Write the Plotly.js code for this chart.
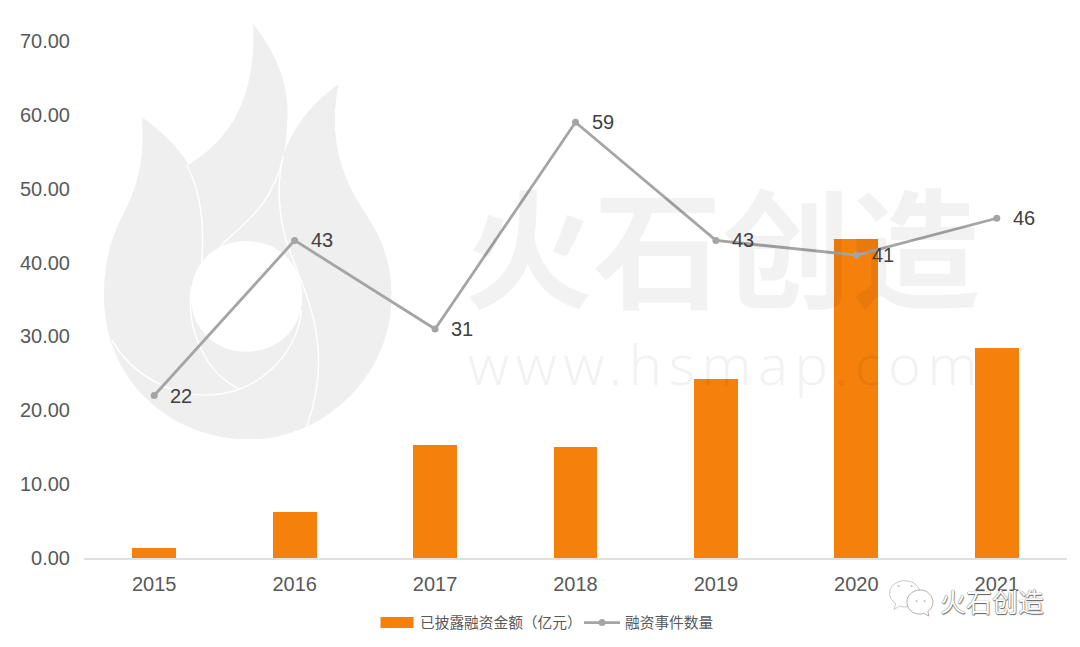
<!DOCTYPE html>
<html><head><meta charset="utf-8">
<script src="https://cdn.plot.ly/plotly-3.0.1.min.js"></script>
<style>
html,body{margin:0;padding:0;background:#fff}
.annotation[data-index="1"] text{letter-spacing:6.5px}
</style></head><body><div id="chart" style="width:1080px;height:647px"></div>
<script>
const years=['2015','2016','2017','2018','2019','2020','2021'];
const funding=[1.35,6.25,15.3,15.0,24.3,43.2,28.4];
const events=[22,43,31,59,43,41,46];
const yTicks=[0,10,20,30,40,50,60,70];
const fundingName='已披露融资金额（亿元）';
const eventsName='融资事件数量';

const W=1080,H=647;
const L=84,R=1067.5,T=41,B=558;
const pxX=x=>(x-L)/(R-L), pxY=y=>(B-y)/(B-T);
// decorative watermark paths, pixel space -> paper space
function mapPath(d,sx,sy,ox,oy){
  let i=0;
  return d.replace(/-?\d+(\.\d+)?/g,m=>{
    const v=+m,isX=(i++%2===0);
    return (isX?pxX(v/sx+ox):pxY(v/sy+oy)).toFixed(5);
  });
}
const flame=(d)=>mapPath(d,3,3,90,10);
const logo=(d)=>mapPath(d,3,3,890,570);
const flameOutline='M155,320 C230,375 280,430 295,465 C400,400 500,290 490,42 C560,130 600,230 592,330 C590,385 587,410 580,435 C620,330 680,270 746,222 C725,330 730,430 790,550 C840,640 905,700 905,860 C905,1100 700,1288 480,1288 C230,1288 42,1100 42,860 C42,700 90,640 120,570 C150,500 165,420 155,320 Z '
 +'M303,860 C303,760 375,693 470,693 C565,693 637,760 637,860 C637,955 565,1025 470,1025 C375,1025 303,955 303,860 Z';
const veins=[
 'M290,465 C330,540 345,640 335,760',
 'M305,830 C285,960 350,1090 445,1135',
 'M392,710 C440,650 540,610 580,440',
 'M580,440 C555,540 570,660 610,750 C660,880 730,1030 650,1250',
 'M65,990 C130,1100 250,1160 360,1155 C500,1150 620,1040 635,900'
];
const logoBack='M45,32 C72,32 92,50 92,72 C92,90 78,102 60,108 C50,112 40,112 30,108 L14,118 L18,100 C6,92 0,82 0,70 C0,50 20,32 45,32 Z';
const logoFront='M92,60 C115,60 130,78 130,98 C130,108 124,118 115,124 L118,138 L102,130 C98,132 94,132 90,132 C68,132 52,116 52,96 C52,76 70,60 92,60 Z';
const dot=(x,y)=>({type:'circle',xref:'paper',yref:'paper',layer:'above',x0:pxX(x-1.1),x1:pxX(x+1.1),y0:pxY(y+1.1),y1:pxY(y-1.1),fillcolor:'#c4c4c4',line:{width:0}});
const shapes=[
 {type:'path',xref:'paper',yref:'paper',layer:'below',path:flame(flameOutline),fillcolor:'#efefef',line:{width:0}},
 ...veins.map(v=>({type:'path',xref:'paper',yref:'paper',layer:'below',path:flame(v),line:{color:'#ffffff',width:1.5}})),
 {type:'path',xref:'paper',yref:'paper',layer:'above',path:logo(logoBack),fillcolor:'#ffffff',line:{color:'rgba(120,120,120,0.4)',width:1}},
 {type:'path',xref:'paper',yref:'paper',layer:'above',path:logo(logoFront),fillcolor:'#ffffff',line:{color:'rgba(100,100,100,0.5)',width:1}},
 dot(899,586),dot(912,586),dot(917,601),dot(925,601)
];
const data=[
 {type:'bar',name:fundingName,x:years,y:funding,width:0.313,marker:{color:'#f5800b',line:{width:0}},hoverinfo:'skip'},
 {type:'scatter',mode:'lines+markers',name:eventsName,x:years,y:events,
  line:{color:'#a5a5a5',width:2.8},marker:{color:'#a5a5a5',size:7},cliponaxis:false,hoverinfo:'skip'}
];
const pointLabels=events.map((v,i)=>({xref:'x',yref:'y',x:i,y:v,text:String(v),showarrow:false,xanchor:'left',yanchor:'middle',xshift:14,
  font:{family:'"Liberation Sans",Arial,sans-serif',size:20,color:'#404040'}}));
const layout={
 width:W,height:H,margin:{l:84,r:12.5,t:41,b:89},paper_bgcolor:'#fff',plot_bgcolor:'rgba(0,0,0,0)',
 font:{family:'"Liberation Sans",Arial,sans-serif',color:'#595959'},
 bargap:0,
 xaxis:{type:'category',categoryorder:'array',categoryarray:years,range:[-0.5,6.5],tickfont:{size:20,color:'#595959'},showgrid:false,zeroline:false,showline:true,linecolor:'#e0e0e0',linewidth:2,ticks:'',ticklen:0,ticklabelstandoff:7,automargin:false},
 yaxis:{range:[0,70],tickvals:yTicks,ticktext:yTicks.map(v=>v.toFixed(2)),tickfont:{size:20,color:'#595959'},showgrid:false,zeroline:false,showline:false,ticks:'',ticklabelstandoff:13,automargin:false},
 showlegend:true,
 legend:{orientation:'h',xref:'container',yref:'container',x:374/W,xanchor:'left',y:1-623/H,yanchor:'middle',itemwidth:36,entrywidth:154,entrywidthmode:'pixels',font:{family:'"Noto Sans CJK SC",sans-serif',size:14.7,color:'#595959'},bgcolor:'rgba(0,0,0,0)',itemclick:false,itemdoubleclick:false},
 shapes:shapes,
 annotations:[
  {xref:'paper',yref:'paper',x:pxX(722),y:pxY(242),text:'火石创造',showarrow:false,xanchor:'center',yanchor:'middle',font:{family:'"Noto Sans CJK SC",sans-serif',size:129,weight:700,color:'rgba(0,0,0,0.05)'}},
  {xref:'paper',yref:'paper',x:pxX(726),y:pxY(363),text:'www.hsmap.com',showarrow:false,xanchor:'center',yanchor:'middle',font:{family:'"Noto Sans",sans-serif',size:56,weight:300,color:'rgba(0,0,0,0.05)'}},
  {xref:'paper',yref:'paper',x:pxX(992),y:pxY(600),text:'火石创造',showarrow:false,xanchor:'center',yanchor:'middle',font:{family:'"Noto Sans CJK SC",sans-serif',size:26,weight:400,color:'#ffffff',shadow:'0 0 1px #333, 0.5px 0.5px 1px #666'}},
  ...pointLabels
 ]
};
const gd=document.getElementById('chart');
function fixSwatch(){
  const groups=gd.querySelectorAll('.legend .traces');
  if(groups.length){groups[0].querySelectorAll('.legendpoints path').forEach(p=>{p.setAttribute('d','M16.5,5.5H-16.5V-5.5H16.5Z');});}
}
Plotly.newPlot(gd,data,layout,{displayModeBar:false,staticPlot:true}).then(()=>{fixSwatch();setTimeout(fixSwatch,50);});
</script></body></html>
